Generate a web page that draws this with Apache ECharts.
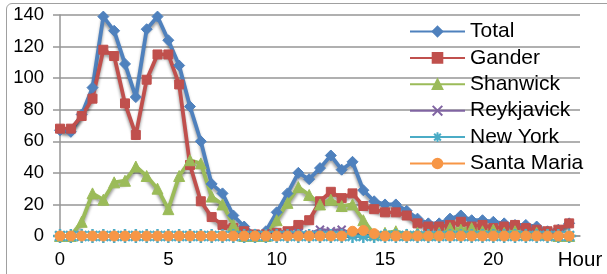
<!DOCTYPE html>
<html>
<head>
<meta charset="utf-8">
<script src="https://cdn.jsdelivr.net/npm/echarts@6/dist/echarts.min.js"></script>
<style>
html, body { margin: 0; padding: 0; background: #fff; }
#frame {
  position: absolute; left: 6px; top: 3px; width: 700px; height: 400px;
  border: 1.5px solid #a0a0a0; border-radius: 6px;
}
#chart { position: absolute; left: 0; top: 0; width: 607px; height: 274px; }
</style>
</head>
<body>
<div id="frame"></div>
<div id="chart"></div>
<script>
// half hour steps
var hours = [0, 0.5, 1, 1.5, 2, 2.5, 3, 3.5, 4, 4.5, 5, 5.5, 6, 6.5, 7, 7.5,
  8, 8.5, 9, 9.5, 10, 10.5, 11, 11.5, 12, 12.5, 13, 13.5, 14, 14.5, 15, 15.5,
  16, 16.5, 17, 17.5, 18, 18.5, 19, 19.5, 20, 20.5, 21, 21.5, 22, 22.5, 23, 23.5]

var total = [67, 66, 77, 94, 139, 130, 109, 88, 131, 139, 124, 108, 82, 60, 33, 27,
  13, 6, 1, 3, 15, 27, 40, 36, 43, 51, 42, 47, 29, 22, 20, 20,
  16, 11, 8, 8, 11, 13, 10, 10, 9, 8, 7, 7, 6, 3, 4, 8]
var gander = [68, 68, 76, 87, 118, 114, 84, 64, 99, 115, 115, 96, 45, 22, 12, 7,
  5, 3, 1, 1, 2, 3, 7, 10, 22, 28, 24, 27, 19, 17, 15, 15,
  13, 8, 6, 6, 7, 9, 6, 7, 5, 6, 7, 5, 4, 3, 4, 8]
var shanwick = [0, 0, 9, 27, 23, 34, 35, 44, 38, 30, 17, 38, 48, 46, 25, 20,
  7, 0, 0, 0, 10, 21, 31, 26, 20, 23, 19, 20, 10, 1, 2, 3,
  1, 2, 1, 2, 5, 4, 5, 3, 4, 2, 3, 1, 2, 1, 0, 0]
var reykjavick = [0, 0, 0, 0, 0, 0, 0, 0, 0, 0, 0, 0, 0, 0, 0, 0,
  0, 0, 0, 0, 0, 1, 2, 1, 4, 3, 4, 1, 0, 0, 0, 0,
  0, 0, 0, 0, 0, 0, 0, 0, 0, 0, 0, 0, 0, 0, 0, 0]
var newYork = [0, 0, 0, 0, 0, 0, 0, 0, 0, 0, 0, 0, 0, 0, 0, 0,
  0, 0, 0, 0, 0, 0, 0, 0, 0, 0, 0, 0, 0, 0, 0, 0,
  0, 0, 0, 0, 0, 0, 0, 0, 0, 0, 0, 0, 0, 0, 0, 0]
var santaMaria = [0, 0, 0, 0, 0, 0, 0, 0, 0, 0, 0, 0, 0, 0, 0, 0,
  0, 0, 0, 0, 0, 0, 0, 0, 0, 0, 0, 3, 3.5, 1.5, 0, 0,
  0, 0, 0, 0, 0, 0, 0, 0, 0, 0, 0, 0, 0, 0, 0, 0]

var yTicks = [0, 20, 40, 60, 80, 100, 120, 140]
var xTicks = [0, 5, 10, 15, 20]

var font = 'Liberation Sans, Arial, sans-serif'
var crossPath = 'path://M0,0L10,10M10,0L0,10'
var starPath = 'path://M5,0L5,10M0,5L10,5M1.5,1.5L8.5,8.5M8.5,1.5L1.5,8.5'

function pairs(vals) {
  return hours.map(function (h, i) { return [h, vals[i]] })
}

function line(name, vals, color, symbol, size, extra) {
  var s = {
    name: name,
    type: 'line',
    data: pairs(vals),
    symbol: symbol,
    symbolSize: size,
    lineStyle: {
      color: color, width: 3.8,
      shadowColor: 'rgba(0,0,0,0.4)', shadowBlur: 3, shadowOffsetY: 3
    },
    itemStyle: { color: color, borderColor: color, borderWidth: 1 }
  }
  return Object.assign(s, extra || {})
}

var chart = echarts.init(document.getElementById('chart'))
chart.setOption({
  animation: false,
  grid: { left: 60, top: 15, width: 520, height: 221 },
  legend: {
    orient: 'vertical',
    left: 404,
    top: 16,
    itemWidth: 55,
    itemHeight: 12,
    itemGap: 5.4,
    textStyle: { fontFamily: font, fontSize: 21, color: '#000', lineHeight: 21 },
    data: ['Total', 'Gander', 'Shanwick', 'Reykjavick', 'New York', 'Santa Maria']
  },
  xAxis: {
    type: 'value',
    min: 0,
    max: 24,
    interval: 5,
    axisLine: { show: true, lineStyle: { color: '#969696', width: 1.5 } },
    axisTick: { show: false },
    splitLine: { show: false },
    axisLabel: {
      margin: 14,
      showMaxLabel: true,
      fontFamily: font,
      fontSize: 18.5,
      color: '#000',
      formatter: function (v) {
        if (v === 24) return '{h|Hour}'
        return xTicks.indexOf(v) >= 0 ? String(v) : ''
      },
      rich: { h: { fontFamily: font, fontSize: 20.5, color: '#000' } }
    }
  },
  yAxis: {
    type: 'value',
    min: yTicks[0],
    max: yTicks[yTicks.length - 1],
    interval: 20,
    axisLine: { show: true, lineStyle: { color: '#969696', width: 1.5 } },
    axisTick: { show: true, length: 7, lineStyle: { color: '#969696', width: 1.5 } },
    splitLine: { lineStyle: { color: '#969696', width: 1.5 } },
    axisLabel: { margin: 16, fontFamily: font, fontSize: 18.5, color: '#000' }
  },
  series: [
    line('Total', total, '#4F81BD', 'diamond', 11),
    line('Gander', gander, '#C0504D', 'rect', 9),
    line('Shanwick', shanwick, '#9BBB59', 'triangle', 11),
    line('Reykjavick', reykjavick, '#8064A2', crossPath, 8, {
      itemStyle: { color: '#8064A2', borderColor: '#8064A2', borderWidth: 2 }
    }),
    line('New York', newYork, '#4BACC6', starPath, 14, {
      itemStyle: { color: '#4BACC6', borderColor: '#4BACC6', borderWidth: 2.5 }
    }),
    line('Santa Maria', santaMaria, '#F79646', 'circle', 10)
  ]
})
</script>
</body>
</html>
